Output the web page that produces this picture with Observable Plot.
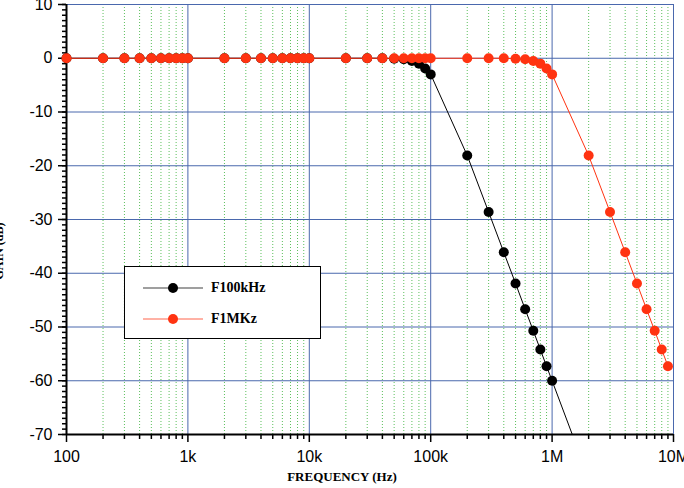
<!DOCTYPE html>
<html><head><meta charset="utf-8">
<script src="https://cdn.jsdelivr.net/npm/d3@7"></script>
<script src="https://cdn.jsdelivr.net/npm/@observablehq/plot@0.6"></script>
<style>
body{margin:0;background:#fff;}
#wrap{position:relative;width:684px;height:488px;overflow:hidden;background:#fff;}
#legend{position:absolute;left:124px;top:266px;width:195px;height:71px;border:1px solid #000;background:#fff;font-family:"Liberation Serif","Times New Roman",serif;font-weight:bold;font-size:14px;}
.row{position:absolute;left:18px;height:20px;display:flex;align-items:center;}
.row svg{display:block;}
.row span{margin-left:8px;}
</style></head><body><div id="wrap"></div>
<script>
// Series names and colours
const seriesNames = ["F100kHz", "F1MKz"];
const seriesColors = ["#000000", "#ff3311"];

// F100kHz
const freqF100k = [100,200,300,400,500,600,700,800,900,
  1000,2000,3000,4000,5000,6000,7000,8000,9000,
  10000,20000,30000,40000,50000,60000,70000,80000,90000,
  100000,200000,300000,400000,500000,600000,700000,800000,900000,
  1000000,2000000];
const gainF100k = [0,0,0,0,0,0,0,0,0,
  0,0,0,0,0,0,0,0,0,
  0,0,0,0,-0.1,-0.2,-0.5,-1.0,-1.9,
  -3.0,-18.1,-28.6,-36.1,-41.9,-46.7,-50.7,-54.2,-57.3,
  -60.0,-78.1];

// F1MKz
const freqF1M = [100,200,300,400,500,600,700,800,900,
  1000,2000,3000,4000,5000,6000,7000,8000,9000,
  10000,20000,30000,40000,50000,60000,70000,80000,90000,
  100000,200000,300000,400000,500000,600000,700000,800000,900000,
  1000000,2000000,3000000,4000000,5000000,6000000,7000000,8000000,9000000];
const gainF1M = [0,0,0,0,0,0,0,0,0,
  0,0,0,0,0,0,0,0,0,
  0,0,0,0,0,0,0,0,0,
  0,0,0,0,-0.1,-0.2,-0.5,-1.0,-1.9,
  -3.0,-18.1,-28.6,-36.1,-41.9,-46.7,-50.7,-54.2,-57.3];

// Ticks
const xMajorTicks = [100, 1000, 10000, 100000, 1000000, 10000000];
const xTickLabels = ["100", "1k", "10k", "100k", "1M", "10M"];
const xMinorTicks = xMajorTicks.slice(0, -1).flatMap(d => [2,3,4,5,6,7,8,9].map(k => d * k));
const yMajorTicks = [10, 0, -10, -20, -30, -40, -50, -60, -70];
const yMinorTicks = d3.range(-70, 11, 1);
const xLabel = "FREQUENCY (Hz)";
const yLabel = "GAIN (dB)";

const rowsA = freqF100k.map((f, i) => ({f, g: gainF100k[i]}));
const rowsB = freqF1M.map((f, i) => ({f, g: gainF1M[i]}));
const xLabelMap = new Map(xMajorTicks.map((d, i) => [d, xTickLabels[i]]));

const gridBlue = "#4a68ad";
const serif = "Liberation Serif, Times New Roman, serif";

const chart = Plot.plot({
  width: 684, height: 488,
  marginLeft: 66, marginRight: 11, marginTop: 4, marginBottom: 54,
  style: {fontFamily: "Liberation Sans, Arial, sans-serif", fontSize: "16px", background: "#fff", color: "#000"},
  x: {type: "log", domain: [100, 1e7], axis: null, label: null},
  y: {domain: [-70, 10], axis: null, label: null},
  marks: [
    Plot.ruleX(xMinorTicks, {stroke: "#5cbf5c", strokeDasharray: "1,2", strokeWidth: 1}),
    Plot.ruleX(xMajorTicks, {stroke: gridBlue, strokeWidth: 1}),
    Plot.ruleY(yMajorTicks, {stroke: gridBlue, strokeWidth: 1}),
    Plot.axisY(yMinorTicks, {tickSize: 4, tickFormat: () => "", strokeWidth: 1.5, label: null}),
    Plot.axisY(yMajorTicks, {tickSize: 8, tickPadding: 6, tickFormat: d => String(d), strokeWidth: 1.5, fontSize: 16, label: null}),
    Plot.axisX(xMinorTicks, {tickSize: 5, tickFormat: () => "", strokeWidth: 1.5, label: null}),
    Plot.axisX(xMajorTicks, {tickSize: 8, tickPadding: 8, tickFormat: d => xLabelMap.get(d), strokeWidth: 1.5, fontSize: 16, label: null}),
    Plot.ruleX([100], {stroke: "#000", strokeWidth: 2}),
    Plot.ruleY([-70], {stroke: "#000", strokeWidth: 2}),
    Plot.line(rowsA, {x: "f", y: "g", stroke: seriesColors[0], strokeWidth: 1, clip: true}),
    Plot.dot(rowsA.filter(d => d.g >= -70), {x: "f", y: "g", r: 5, fill: seriesColors[0], stroke: "none"}),
    Plot.line(rowsB, {x: "f", y: "g", stroke: seriesColors[1], strokeWidth: 1, clip: true}),
    Plot.dot(rowsB.filter(d => d.g >= -70), {x: "f", y: "g", r: 5, fill: seriesColors[1], stroke: "none"}),
    Plot.text([xLabel], {frameAnchor: "bottom", dx: -28, dy: 46, fontFamily: serif, fontWeight: "bold", fontSize: 13, fill: "#000"}),
    Plot.text([yLabel], {frameAnchor: "left", rotate: -90, dx: -64, dy: 60, lineAnchor: "bottom", fontFamily: serif, fontWeight: "bold", fontSize: 12, fill: "#000"})
  ]
});

const wrap = document.getElementById("wrap");
wrap.appendChild(chart);

const legend = document.createElement("div");
legend.id = "legend";
seriesNames.forEach((name, i) => {
  const row = document.createElement("div");
  row.className = "row";
  row.style.top = (i === 0 ? 11 : 42) + "px";
  row.innerHTML = `<svg width="60" height="12"><line x1="0" y1="6" x2="60" y2="6" stroke="${seriesColors[i]}" stroke-width="1" opacity="0.75"/><circle cx="30" cy="6" r="5" fill="${seriesColors[i]}"/></svg><span>${name}</span>`;
  legend.appendChild(row);
});
wrap.appendChild(legend);
</script>
</body></html>
